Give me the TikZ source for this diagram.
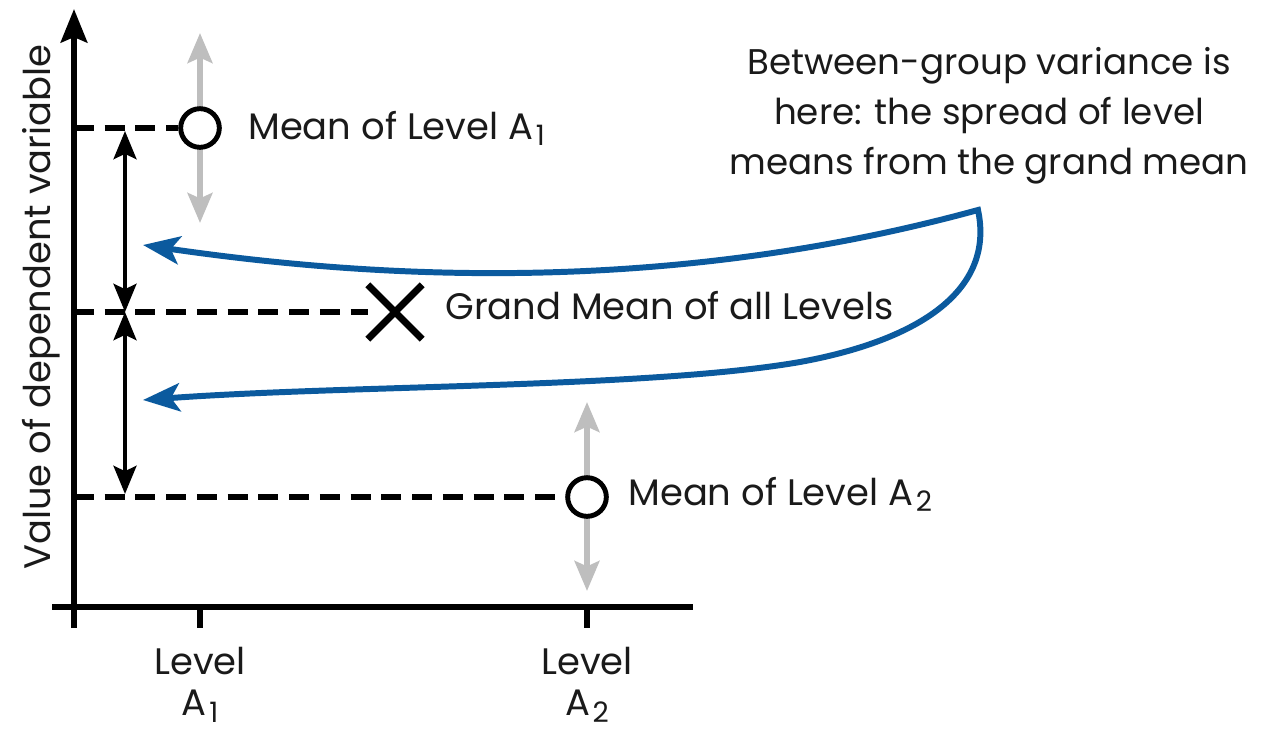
\documentclass[tikz,border=0pt]{standalone}
\usepackage{fontspec}
\setmainfont{Poppins}
\usetikzlibrary{arrows.meta, positioning, shapes.misc, calc, backgrounds}
\definecolor{varblue}{HTML}{0B5A9E}
\definecolor{spreadgrey}{HTML}{BEBEBE}
\definecolor{inkblack}{HTML}{1A1A1A}
\newcommand{\lvlsub}[1]{\kern1.5pt\raisebox{-3.6pt}{\fontsize{16}{16}\selectfont #1}}

\begin{document}
\begin{tikzpicture}[x=0.02cm, y=-0.02cm,
    axis/.style={line width=3.4pt, black},
    guide/.style={line width=3.2pt, black, dash pattern=on 11.3pt off 6.2pt},
    meanpt/.style={circle, draw, line width=2.8pt, fill=white,
                   minimum size=22pt, inner sep=0pt},
    grandpt/.style={cross out, draw, line width=4pt, minimum size=27pt, inner sep=0pt},
    spread/.style={{Stealth[length=17pt, width=14pt, inset=3pt]}-{Stealth[length=17pt, width=14pt, inset=3pt]},
                   line width=3.4pt, spreadgrey},
    gap/.style={{Stealth[length=16pt, width=13pt, inset=3pt]}-{Stealth[length=16pt, width=13pt, inset=3pt]},
                line width=2.3pt, black},
    flow/.style={{Stealth[length=21pt, width=16pt, inset=5pt]}-{Stealth[length=21pt, width=16pt, inset=5pt]},
                 line width=3.4pt, varblue},
    lbl/.style={font=\fontsize{21}{25}\selectfont, text=inkblack, inner sep=0pt},
]
    \useasboundingbox (0,0) rectangle (1265,734);

    % axes
    \coordinate (ybot) at (74,628);
    \coordinate (ytop) at (74,9);
    \coordinate (xl) at (52,607);
    \coordinate (xr) at (693,607);
    \draw[axis, -{Stealth[length=19pt, width=15pt, inset=3pt]}] (ybot) -- (ytop);
    \draw[axis] (xl) -- (xr);
    \coordinate (tk1) at (200,607);
    \coordinate (tk1b) at (200,628);
    \coordinate (tk2) at (587,607);
    \coordinate (tk2b) at (587,628);
    \draw[axis] (tk1) -- (tk1b);
    \draw[axis] (tk2) -- (tk2b);

    \node[lbl, rotate=90, anchor=base] (ylab) at (51,307) {Value of dependent variable};
    \node[lbl, font=\fontsize{21}{23.5}\selectfont, align=center, anchor=north] (lvl1) at (200,647) {Level\\A\lvlsub{1}};
    \node[lbl, font=\fontsize{21}{23.5}\selectfont, align=center, anchor=north] (lvl2) at (587,647) {Level\\A\lvlsub{2}};

    % level means and grand mean
    \node[meanpt] (m1) at (200,128) {};
    \node[meanpt] (m2) at (587,497) {};
    \node[grandpt] (gm) at (395,312) {};

    \node[lbl, anchor=base west] (m1lab) at (248,139) {Mean of Level A\lvlsub{1}};
    \node[lbl, anchor=base west] (m2lab) at (628,505) {Mean of Level A\lvlsub{2}};
    \node[lbl, anchor=base west] (gmlab) at (445,319) {Grand Mean of all Levels};

    % within-level spread
    \coordinate (s1t) at (200,33);
    \coordinate (s1b) at (200,223);
    \coordinate (s2t) at (587,402);
    \coordinate (s2b) at (587,591);
    \begin{scope}[on background layer]
        \draw[spread] (s1t) -- (s1b);
        \draw[spread] (s2t) -- (s2b);
    \end{scope}

    % guides to the axis
    \coordinate (a1) at (74,128);
    \coordinate (ag) at (74,312);
    \coordinate (a2) at (74,497);
    \draw[guide] (a1) -- (m1.west);
    \draw[guide] (ag) -- (gm.west);
    \draw[guide] (a2) -- (m2.west);

    % distances to the grand mean
    \coordinate (d1) at (125,131);
    \coordinate (dg) at (125,312);
    \coordinate (d2) at (125,494);
    \draw[gap] (d1) -- (dg);
    \draw[gap] (dg) -- (d2);

    % between-group note
    \node[lbl, font=\fontsize{20.3}{28.4}\selectfont, align=center, anchor=north] (note) at (989,47)
        {Between-group variance is\\here: the spread of level\\means from the grand mean};
    \coordinate (tipA) at (143,245);
    \coordinate (tipB) at (143,400);
    \coordinate (cusp) at (978,210);
    \coordinate (bend) at (800,362);
    \draw[flow] (tipA) .. controls (350,275) and (650,300) .. (cusp)
        .. controls (995,290) and (920,340) .. (bend)
        .. controls (650,388) and (350,385) .. (tipB);
\end{tikzpicture}
\end{document}
